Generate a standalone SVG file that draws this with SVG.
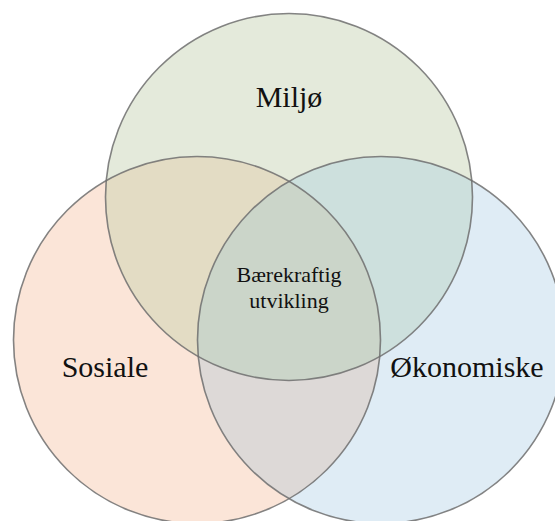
<svg xmlns="http://www.w3.org/2000/svg" width="555" height="521" viewBox="0 0 555 521">
<style>
.ring{fill:none;stroke:#6f6f6f;stroke-opacity:0.85;stroke-width:1.6}
text{fill:#111;text-anchor:middle}
</style>
<defs>
<clipPath id="clipA"><circle cx="289" cy="197" r="183.5"/></clipPath>
<clipPath id="clipB"><circle cx="197" cy="340" r="183.5"/></clipPath>
<clipPath id="clipC"><circle cx="381" cy="340" r="183.5"/></clipPath>
</defs>
<rect width="555" height="521" fill="#ffffff"/>
<g id="fills">
<circle cx="289" cy="197" r="183.5" fill="#e4eadb"/>
<circle cx="197" cy="340" r="183.5" fill="#fbe5d8"/>
<circle cx="381" cy="340" r="183.5" fill="#dfecf5"/>
<g clip-path="url(#clipB)"><circle cx="289" cy="197" r="183.5" fill="#e3dcc4"/></g>
<g clip-path="url(#clipC)"><circle cx="289" cy="197" r="183.5" fill="#cde0dd"/></g>
<g clip-path="url(#clipC)"><circle cx="197" cy="340" r="183.5" fill="#ddd9d7"/></g>
<g clip-path="url(#clipC)"><g clip-path="url(#clipB)"><circle cx="289" cy="197" r="183.5" fill="#cbd5c9"/></g></g>
</g>
<g id="miljo">
<circle class="ring" cx="289" cy="197" r="183.5"/>
<text x="289" y="107" font-family="Liberation Serif, Times New Roman, serif" font-size="30">Miljø</text>
</g>
<g id="sosiale">
<circle class="ring" cx="197" cy="340" r="183.5"/>
<text x="105" y="377" font-family="Liberation Serif, Times New Roman, serif" font-size="30">Sosiale</text>
</g>
<g id="okonomiske">
<circle class="ring" cx="381" cy="340" r="183.5"/>
<text x="467" y="377" font-family="Liberation Serif, Times New Roman, serif" font-size="30">Økonomiske</text>
</g>
<g id="baerekraftig">
<text x="289" y="282" font-family="Liberation Serif, Times New Roman, serif" font-size="22">Bærekraftig</text>
<text x="289" y="308" font-family="Liberation Serif, Times New Roman, serif" font-size="22">utvikling</text>
</g>
<g id="connectors"></g>
</svg>
